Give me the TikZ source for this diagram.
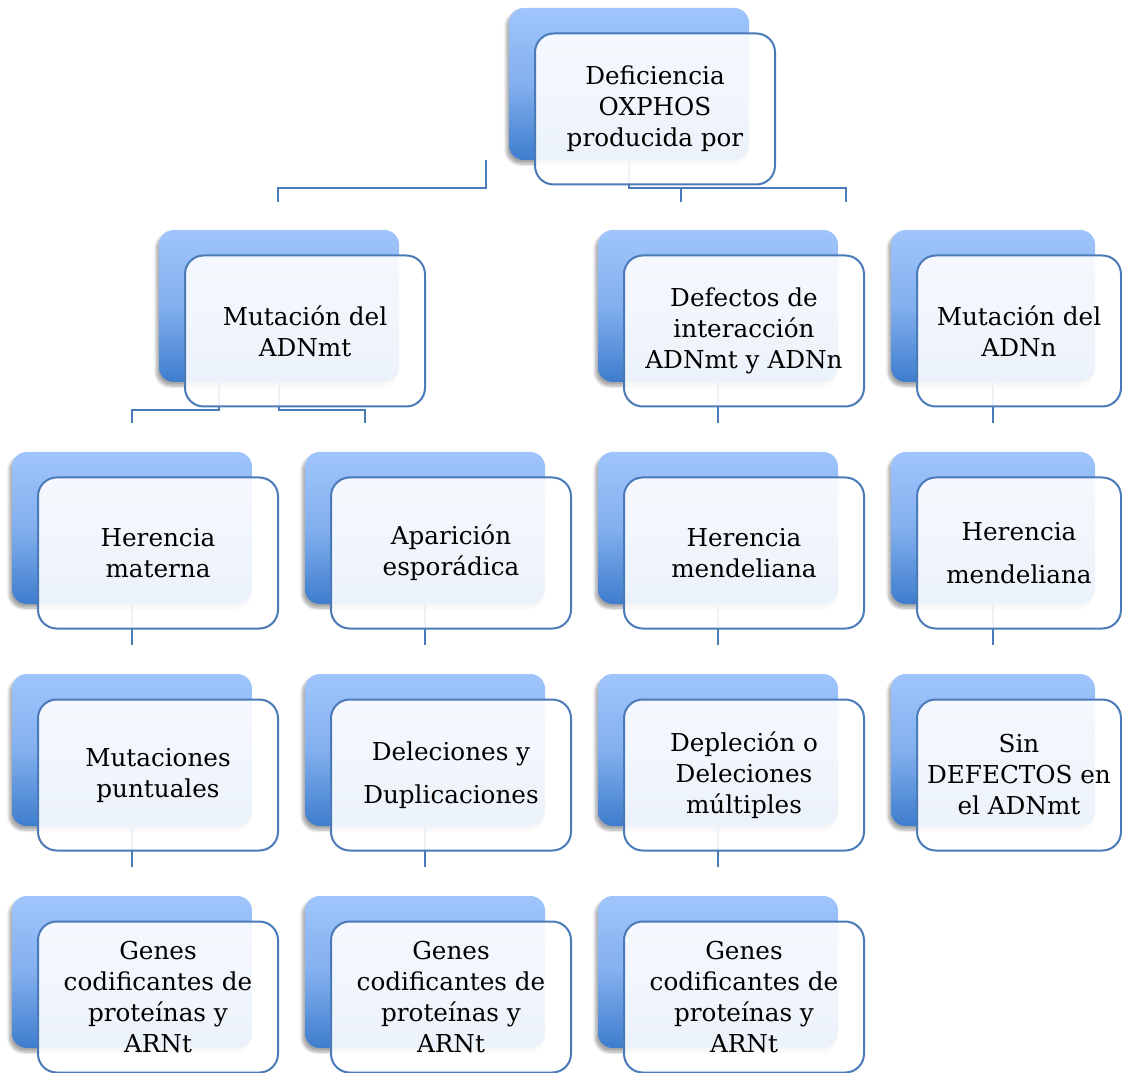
\documentclass[tikz,border=0pt]{standalone}
\usepackage{fontspec}
\setmainfont{DejaVu Serif}
\usetikzlibrary{shadows.blur}

\definecolor{boxtop}{RGB}{160,197,252}
\definecolor{boxbot}{RGB}{62,125,205}
\definecolor{linkblue}{RGB}{74,122,184}

\tikzset{
  backbox/.style={rectangle, rounded corners=11pt, inner sep=0pt,
    minimum width=180pt, minimum height=114pt,
    top color=boxtop, bottom color=boxbot, middle color=boxtop!70!boxbot,
    blur shadow={shadow xshift=-2pt, shadow yshift=-3pt, shadow opacity=35, shadow blur steps=8}},
  frontbox/.style={rectangle, rounded corners=14pt, inner sep=0pt,
    minimum width=180pt, minimum height=113.25pt,
    draw=linkblue, line width=1.5pt, fill=white, fill opacity=0.9, text opacity=1,
    align=center, font=\fontsize{18.5}{23.25}\selectfont},
  narrow/.style={minimum width=153pt},
  link/.style={draw=linkblue, line width=1.5pt}
}

\begin{document}
\begin{tikzpicture}[x=0.75pt,y=-0.75pt]
    \useasboundingbox (0,0) rectangle (1122,1073);
    % back boxes
    \node[backbox] (b0) at (629,84) {};
    \node[backbox] (b1) at (279,306) {};
    \node[backbox] (b1c) at (718,306) {};
    \node[backbox,narrow] (b1d) at (993,306) {};
    \node[backbox] (b2a) at (132,528) {};
    \node[backbox] (b2b) at (425,528) {};
    \node[backbox] (b2c) at (718,528) {};
    \node[backbox,narrow] (b2d) at (993,528) {};
    \node[backbox] (b3a) at (132,750) {};
    \node[backbox] (b3b) at (425,750) {};
    \node[backbox] (b3c) at (718,750) {};
    \node[backbox,narrow] (b3d) at (993,750) {};
    \node[backbox] (b4a) at (132,972) {};
    \node[backbox] (b4b) at (425,972) {};
    \node[backbox] (b4c) at (718,972) {};
    % free ends
    \coordinate (t1) at (278,202);
    \coordinate (t2) at (681,202);
    \coordinate (t3) at (846,202);
    \coordinate (m1) at (365,423);
    % connectors
    \draw[link] ([xshift=-17.25pt]b0.south west) -- ++(0,28) -| (t1);
    \draw[link] (b0.south) -- ++(0,28) -| (t3);
    \draw[link] (t2) -- ++(0,-14);
    \draw[link] ([xshift=45pt]b1.south west) -- ++(0,28) -| ([yshift=21.75pt]b2a.north);
    \draw[link] (b1.south) -- ++(0,28) -| (m1);
    \draw[link] (b1c.south) -- ([yshift=21.75pt]b2c.north);
    \draw[link] (b1d.south) -- ([yshift=21.75pt]b2d.north);
    \draw[link] (b2a.south) -- ([yshift=21.75pt]b3a.north);
    \draw[link] (b2b.south) -- ([yshift=21.75pt]b3b.north);
    \draw[link] (b2c.south) -- ([yshift=21.75pt]b3c.north);
    \draw[link] (b2d.south) -- ([yshift=21.75pt]b3d.north);
    \draw[link] (b3a.south) -- ([yshift=21.75pt]b4a.north);
    \draw[link] (b3b.south) -- ([yshift=21.75pt]b4b.north);
    \draw[link] (b3c.south) -- ([yshift=21.75pt]b4c.north);
    % front boxes
    \node[frontbox] (f0) at (655,109) {Deficiencia\\OXPHOS\\producida por};
    \node[frontbox] (f1) at (305,331) {Mutación del\\ADNmt};
    \node[frontbox] (f1c) at (744,331) {Defectos de\\interacción\\ADNmt y ADNn};
    \node[frontbox,narrow] (f1d) at (1019,331) {Mutación del\\ADNn};
    \node[frontbox] (f2a) at (158,553) {Herencia\\materna};
    \node[frontbox] (f2b) at (451,553) {Aparición\\esporádica};
    \node[frontbox] (f2c) at (744,553) {Herencia\\mendeliana};
    \node[frontbox,narrow] (f2d) at (1019,553) {Herencia\\[9pt]mendeliana};
    \node[frontbox] (f3a) at (158,775) {Mutaciones\\puntuales};
    \node[frontbox] (f3b) at (451,775) {Deleciones y\\[9pt]Duplicaciones};
    \node[frontbox] (f3c) at (744,775) {Depleción o\\Deleciones\\múltiples};
    \node[frontbox,narrow] (f3d) at (1019,775) {Sin\\DEFECTOS en\\el ADNmt};
    \node[frontbox] (f4a) at (158,997) {Genes\\codificantes de\\proteínas y\\ARNt};
    \node[frontbox] (f4b) at (451,997) {Genes\\codificantes de\\proteínas y\\ARNt};
    \node[frontbox] (f4c) at (744,997) {Genes\\codificantes de\\proteínas y\\ARNt};
\end{tikzpicture}
\end{document}
